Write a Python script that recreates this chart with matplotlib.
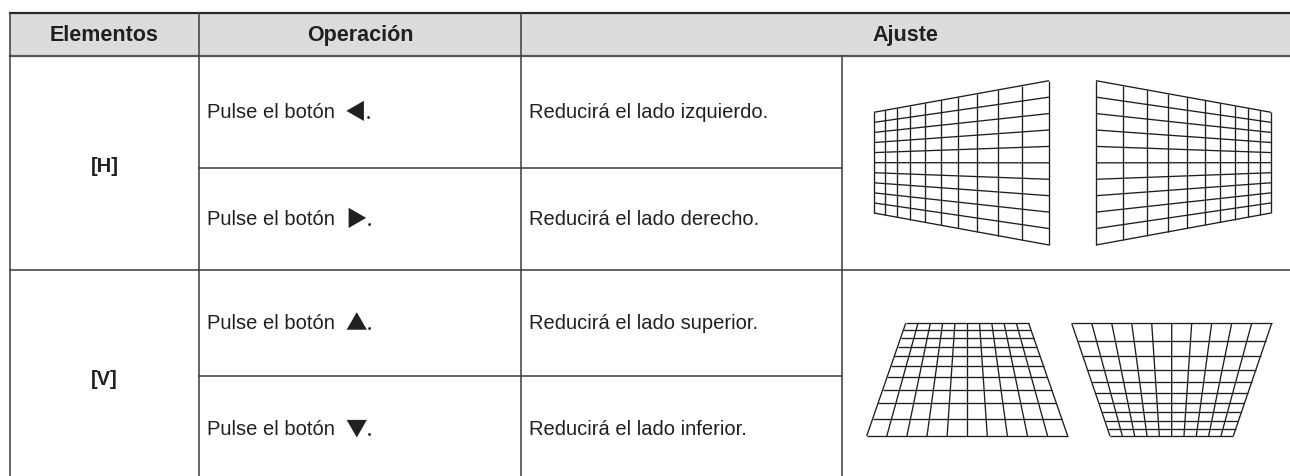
import numpy as np
from matplotlib import pyplot as plt

# table content
headers = ['Elementos', 'Operación', 'Ajuste']
elementos = ['[H]', '[V]']
operaciones = ['Pulse el botón ◀.', 'Pulse el botón ▶.',
               'Pulse el botón ▲.', 'Pulse el botón ▼.']
ajustes = ['Reducirá el lado izquierdo.', 'Reducirá el lado derecho.',
           'Reducirá el lado superior.', 'Reducirá el lado inferior.']
grid_divisions = 10

# layout in pixels
W, H = 1290, 477
col_x = [10, 199, 521, 842, 1290]
row_y = [14, 57, 169, 271, 377, 483]
line_color = '#3c3c3c'
text_color = '#231f20'
fonts = ['Liberation Sans', 'DejaVu Sans']
# wide button arrows like the manual's
arrow_fonts = ['Noto Sans CJK JP', 'DejaVu Sans']

# keystone quads: top-left, top-right, bottom-right, bottom-left
quads = [
    [(874, 113.3), (1049, 81.7), (1049, 246), (874, 214)],
    [(1096, 81.7), (1271, 113.3), (1271, 214), (1096, 246)],
    [(905.7, 324.3), (1028.7, 324.3), (1067.7, 437), (866.7, 437)],
    [(1071.7, 324.3), (1271.7, 324.3), (1233.3, 437), (1110, 437)],
]


def homography(quad):
    src = [(0, 0), (1, 0), (1, 1), (0, 1)]
    A, b = [], []
    for (u, v), (x, y) in zip(src, quad):
        A.append([u, v, 1, 0, 0, 0, -u * x, -v * x])
        b.append(x)
        A.append([0, 0, 0, u, v, 1, -u * y, -v * y])
        b.append(y)
    h = np.linalg.solve(np.array(A, float), np.array(b, float))
    return np.append(h, 1).reshape(3, 3)


def warp(M, u, v):
    p = M @ np.array([u, v, 1.0])
    return p[0] / p[2], p[1] / p[2]


def draw_grid(ax, quad, n):
    M = homography(quad)
    for i in range(n + 1):
        t = i / n
        for a, b in (((t, 0), (t, 1)), ((0, t), (1, t))):
            x0, y0 = warp(M, *a)
            x1, y1 = warp(M, *b)
            ax.plot([x0, x1], [y0, y1], color='#1e1e1e', lw=0.95,
                    solid_capstyle='butt')


fig = plt.figure(figsize=(W / 100, H / 100), dpi=100)
ax = fig.add_axes([0, 0, 1, 1])
ax.set_xlim(0, W)
ax.set_ylim(H, 0)
ax.axis('off')
renderer = fig.canvas.get_renderer()

# header band
ax.add_patch(plt.Rectangle((col_x[0], row_y[0]), W - col_x[0], row_y[1] - row_y[0],
                           facecolor='#dcdcde', edgecolor='none', zorder=0))

# horizontal rules
ax.plot([col_x[0], W], [row_y[0], row_y[0]], color='#2a2a2a', lw=1.6)
ax.plot([col_x[0], W], [row_y[1], row_y[1]], color='#555555', lw=1.6)
ax.plot([col_x[0], W], [row_y[3], row_y[3]], color=line_color, lw=1.1)
for yy in (row_y[2], row_y[4]):
    ax.plot([col_x[1], col_x[3]], [yy, yy], color=line_color, lw=1.1)

# vertical rules
for xx in col_x[:3]:
    ax.plot([xx, xx], [row_y[0], H], color=line_color, lw=1.1)
ax.plot([col_x[3], col_x[3]], [row_y[1], H], color=line_color, lw=1.1)

# header text
hy = (row_y[0] + row_y[1]) / 2
hx = [(col_x[0] + col_x[1]) / 2, (col_x[1] + col_x[2]) / 2, (col_x[2] + col_x[4]) / 2]
for x, label in zip(hx, headers):
    ax.text(x, hy, label, ha='center', va='center', fontsize=15.5,
            fontweight='bold', color=text_color, family=fonts)

# body text
for i, label in enumerate(elementos):
    y = (row_y[1 + 2 * i] + row_y[3 + 2 * i]) / 2 + 3
    ax.text(hx[0], y, label, ha='center', va='center', fontsize=14.5,
            fontweight='bold', color=text_color, family=fonts)
for i, (op, aj) in enumerate(zip(operaciones, ajustes)):
    y = (row_y[1 + i] + row_y[2 + i]) / 2
    prefix, tail = op[:-2].rstrip(), op[-2:]
    t = ax.text(col_x[1] + 8, y, prefix, ha='left', va='center', fontsize=14.5,
                color=text_color, family=fonts)
    # figure pixels equal data x here, so the extent gives the next x
    x_end = t.get_window_extent(renderer).x1
    ax.text(x_end + 10, y, tail, ha='left', va='center', fontsize=15.5,
            color=text_color, family=arrow_fonts)
    ax.text(col_x[2] + 8, y, aj, ha='left', va='center', fontsize=14.5,
            color=text_color, family=fonts)

for quad in quads:
    draw_grid(ax, quad, grid_divisions)

fig.savefig('out.png', dpi=100)
